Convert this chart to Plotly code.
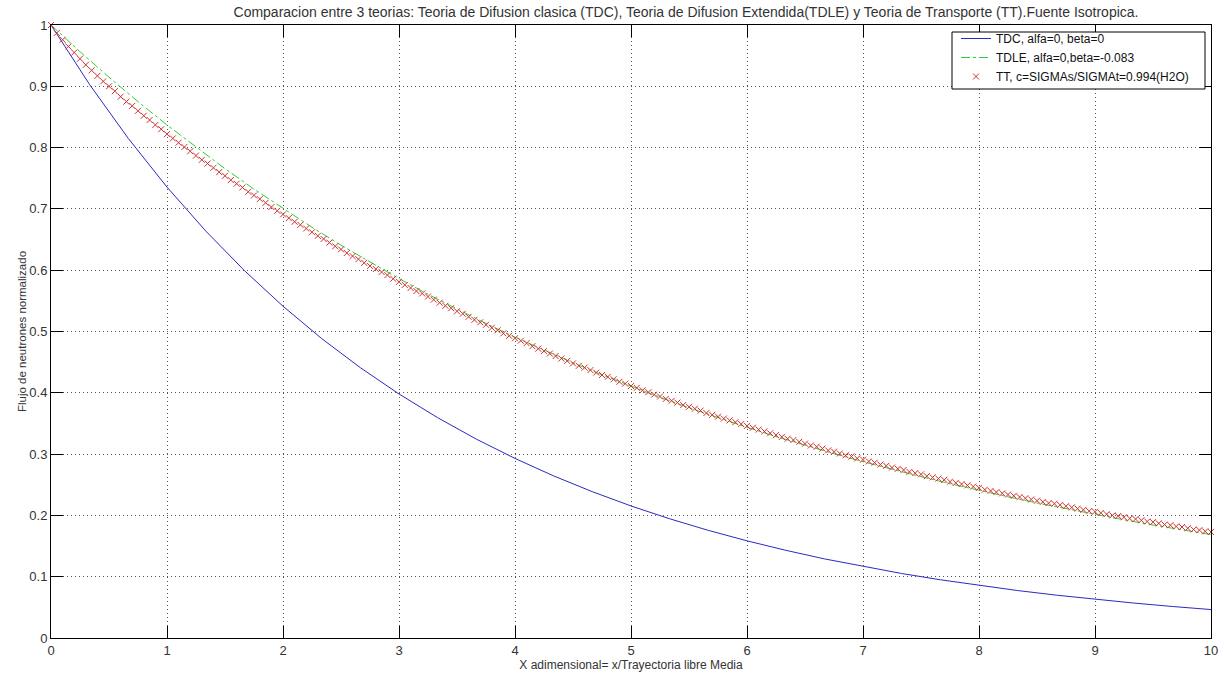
import plotly.graph_objects as go

# ---------------- data ----------------
# TDC: classical diffusion, sampled every 1/3 of a mean free path
x_tdc = [i / 3 for i in range(31)]
tdc = [1.0000, 0.9027, 0.8149, 0.7356, 0.6641, 0.5995, 0.5412, 0.4885, 0.4410, 0.3981,
       0.3594, 0.3244, 0.2929, 0.2644, 0.2387, 0.2154, 0.1945, 0.1756, 0.1585, 0.1431,
       0.1291, 0.1166, 0.1052, 0.0950, 0.0858, 0.0774, 0.0699, 0.0631, 0.0570, 0.0514,
       0.0464]

# TDLE: extended diffusion, sampled every 0.25
x_tdle = [i * 0.25 for i in range(41)]
tdle = [1.0000, 0.9565, 0.9148, 0.8750, 0.8369, 0.8005, 0.7656, 0.7323, 0.7005, 0.6700,
        0.6408, 0.6129, 0.5863, 0.5607, 0.5363, 0.5130, 0.4907, 0.4693, 0.4489, 0.4293,
        0.4107, 0.3928, 0.3757, 0.3593, 0.3437, 0.3287, 0.3144, 0.3007, 0.2876, 0.2751,
        0.2632, 0.2517, 0.2407, 0.2303, 0.2202, 0.2107, 0.2015, 0.1927, 0.1843, 0.1763,
        0.1686]

# TT: transport theory, markers every 0.05
x_tt = [round(i * 0.05, 2) for i in range(201)]
tt = [1.000, 0.987, 0.976, 0.965, 0.955, 0.945, 0.935, 0.926, 0.917, 0.908,
      0.900, 0.892, 0.883, 0.875, 0.868, 0.860, 0.852, 0.845, 0.837, 0.830,
      0.822, 0.815, 0.808, 0.801, 0.794, 0.787, 0.780, 0.774, 0.767, 0.760,
      0.754, 0.747, 0.741, 0.735, 0.728, 0.722, 0.716, 0.710, 0.703, 0.697,
      0.691, 0.685, 0.679, 0.674, 0.668, 0.662, 0.656, 0.651, 0.645, 0.639,
      0.634, 0.628, 0.623, 0.618, 0.612, 0.607, 0.602, 0.597, 0.592, 0.586,
      0.581, 0.576, 0.571, 0.566, 0.562, 0.557, 0.552, 0.547, 0.542, 0.538,
      0.533, 0.529, 0.524, 0.519, 0.515, 0.511, 0.506, 0.502, 0.497, 0.493,
      0.489, 0.485, 0.481, 0.476, 0.472, 0.468, 0.464, 0.460, 0.456, 0.452,
      0.448, 0.444, 0.441, 0.437, 0.433, 0.429, 0.426, 0.422, 0.418, 0.415,
      0.411, 0.408, 0.404, 0.401, 0.397, 0.394, 0.390, 0.387, 0.384, 0.380,
      0.377, 0.374, 0.371, 0.367, 0.364, 0.361, 0.358, 0.355, 0.352, 0.349,
      0.346, 0.343, 0.340, 0.337, 0.334, 0.331, 0.328, 0.325, 0.323, 0.320,
      0.317, 0.314, 0.312, 0.309, 0.306, 0.304, 0.301, 0.298, 0.296, 0.293,
      0.291, 0.288, 0.286, 0.283, 0.281, 0.278, 0.276, 0.274, 0.271, 0.269,
      0.267, 0.264, 0.262, 0.260, 0.258, 0.255, 0.253, 0.251, 0.249, 0.247,
      0.245, 0.242, 0.240, 0.238, 0.236, 0.234, 0.232, 0.230, 0.228, 0.226,
      0.224, 0.222, 0.220, 0.219, 0.217, 0.215, 0.213, 0.211, 0.209, 0.207,
      0.206, 0.204, 0.202, 0.200, 0.199, 0.197, 0.195, 0.194, 0.192, 0.190,
      0.189, 0.187, 0.185, 0.184, 0.182, 0.181, 0.179, 0.177, 0.176, 0.174,
      0.173]

series_names = ["TDC, alfa=0, beta=0",
                "TDLE, alfa=0,beta=-0.083",
                "TT, c=SIGMAs/SIGMAt=0.994(H2O)"]

title_text = ("Comparacion entre 3 teorias: Teoria de Difusion clasica (TDC), "
              "Teoria de Difusion Extendida(TDLE) y Teoria de Transporte (TT).Fuente Isotropica.")
x_label = "X adimensional= x/Trayectoria libre Media"
y_label = "Flujo de neutrones normalizado"

# ---------------- figure ----------------
FONT = "Liberation Sans, Arial, Helvetica, sans-serif"
TXT = "#333333"
W, H = 1227, 675
ML, MR, MT, MB = 51, 16, 25, 37
PW, PH = W - ML - MR, H - MT - MB


def px_x(p):  # pixel -> paper x
    return (p - ML) / PW


def px_y(p):  # pixel -> paper y
    return (H - MB - p) / PH


fig = go.Figure()
fig.add_trace(go.Scatter(x=x_tdc, y=tdc, mode="lines", name=series_names[0],
                         line=dict(color="#2a2ac0", width=1)))
fig.add_trace(go.Scatter(x=x_tdle, y=tdle, mode="lines", name=series_names[1],
                         line=dict(color="#30d030", width=1, dash="dashdot")))
fig.add_trace(go.Scatter(x=x_tt, y=tt, mode="markers", name=series_names[2],
                         cliponaxis=False,
                         marker=dict(symbol="x-thin", size=6, color="#d03030",
                                     line=dict(color="#d03030", width=1))))

axis_common = dict(
    showline=True, linecolor="black", linewidth=1, mirror="allticks",
    ticks="inside", ticklen=12, tickcolor="black", tickwidth=1,
    showgrid=True, gridcolor="#555555", gridwidth=1, griddash="1px,3px",
    zeroline=False, automargin=False,
)

fig.update_layout(
    width=W, height=H,
    margin=dict(l=ML, r=MR, t=MT, b=MB),
    paper_bgcolor="white", plot_bgcolor="white",
    font=dict(family=FONT, size=12, color=TXT),
    title=dict(text=title_text, x=px_x(686), xref="paper", xanchor="center",
               y=1 - 12 / H, yref="container", yanchor="middle",
               font=dict(family=FONT, size=14, color=TXT)),
    xaxis=dict(range=[0, 10], dtick=1, tick0=0, ticklabelstandoff=0,
               tickfont=dict(family=FONT, size=13, color=TXT),
               title=dict(text=x_label, font=dict(family=FONT, size=12, color=TXT), standoff=0),
               **axis_common),
    yaxis=dict(range=[0, 1], dtick=0.1, tick0=0,
               tickfont=dict(family=FONT, size=13, color=TXT),
               title=dict(text=y_label, font=dict(family=FONT, size=11.5, color=TXT), standoff=0),
               **axis_common),
    legend=dict(x=px_x(956), xanchor="left", y=px_y(24), yanchor="top",
                bgcolor="rgba(0,0,0,0)", borderwidth=0,
                font=dict(family=FONT, size=12, color="#111111"), tracegroupgap=0),
    shapes=[dict(type="rect", xref="paper", yref="paper",
                 x0=px_x(952), x1=px_x(1205), y0=px_y(89), y1=px_y(32),
                 fillcolor="white", line=dict(color="black", width=1), layer="above")],
    showlegend=True,
)

fig.write_html("out.html",
               config={"displayModeBar": False},
               post_script="document.body.style.margin='0';"
                           "document.body.style.overflow='hidden';")
